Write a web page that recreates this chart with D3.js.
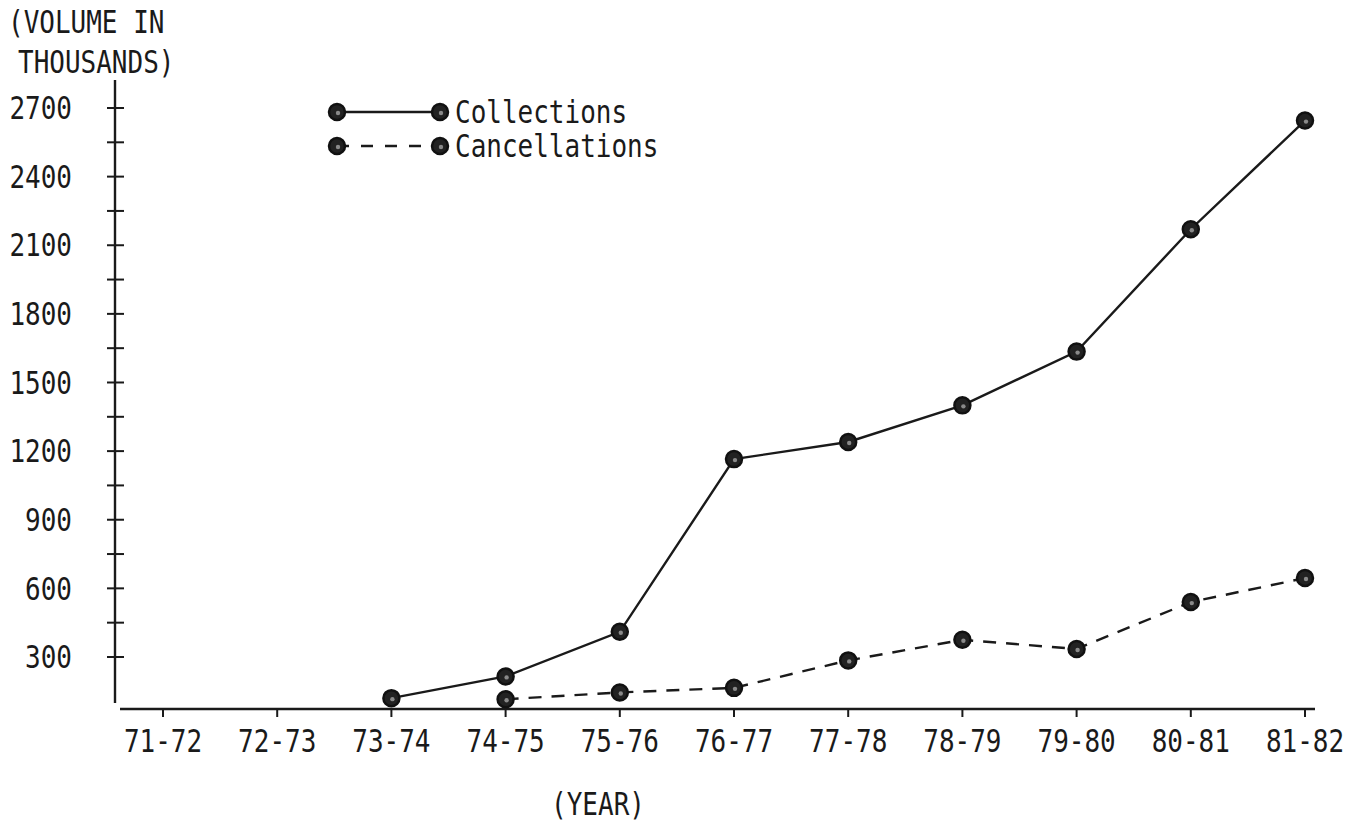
<!DOCTYPE html>
<html>
<head>
<meta charset="utf-8">
<script src="https://cdn.jsdelivr.net/npm/d3@7"></script>
<style>
  html, body { margin: 0; padding: 0; background: #fff; }
  svg text { font-family: "DejaVu Sans Mono", "Liberation Mono", monospace; fill: #1a1a1a; }
</style>
</head>
<body>
<div id="chart"></div>
<script>
// # Data (volume in thousands).
const years = ['71-72', '72-73', '73-74', '74-75', '75-76', '76-77', '77-78', '78-79', '79-80', '80-81', '81-82']
const collections = [null, null, 120, 215, 410, 1165, 1240, 1400, 1635, 2170, 2645]
const cancellations = [null, null, null, 115, 145, 165, 285, 375, 335, 540, 645]
const yTicks = [300, 600, 900, 1200, 1500, 1800, 2100, 2400, 2700]
const yMinorTicks = [450, 750, 1050, 1350, 1650, 1950, 2250, 2550]

// # Size
const width = 1348
const height = 823
const ink = '#1a1a1a'
const fontSize = 26
// # The typewriter face is taller than it is wide.
const stretchY = 1.2

const svg = d3.select('#chart')
    .append('svg')
    .attr('width', width)
    .attr('height', height)

// # Adds a stretched label at (tx, ty); ty is the vertical centre.
const label = (parent, tx, ty, str, anchor) => {
    parent.append('text')
        .attr('transform', 'translate(' + tx + ',' + ty + ') scale(1,' + stretchY + ')')
        .attr('dy', '0.36em')
        .attr('text-anchor', anchor || 'start')
        .attr('font-size', fontSize)
        .text(str)
}

// # Scales
const x = d3.scalePoint()
    .domain(years)
    .range([163, 1305])

const y = d3.scaleLinear()
    .domain([0, 2700])
    .range([725.6, 108])

const axisX = 115
const axisY = 709

// # Y axis line
svg.append('line')
    .attr('x1', axisX).attr('x2', axisX)
    .attr('y1', 80).attr('y2', 703)
    .attr('stroke', ink).attr('stroke-width', 2.4)

// # Y ticks (cross the axis)
svg.append('g')
    .selectAll('line')
    .data(yTicks.concat(yMinorTicks))
    .enter().append('line')
    .attr('x1', axisX - 8).attr('x2', axisX + 9)
    .attr('y1', d => y(d)).attr('y2', d => y(d))
    .attr('stroke', ink).attr('stroke-width', 2)

const yLabels = svg.append('g')
yTicks.forEach(d => label(yLabels, 72, y(d), d, 'end'))

// # X axis line
svg.append('line')
    .attr('x1', 120).attr('x2', 1315)
    .attr('y1', axisY).attr('y2', axisY)
    .attr('stroke', ink).attr('stroke-width', 2.4)

svg.append('g')
    .selectAll('line')
    .data(years)
    .enter().append('line')
    .attr('x1', d => x(d)).attr('x2', d => x(d))
    .attr('y1', axisY).attr('y2', axisY + 8)
    .attr('stroke', ink).attr('stroke-width', 2)

const xLabels = svg.append('g')
years.forEach(d => label(xLabels, x(d), 741, d, 'middle'))

// # Axis titles
label(svg, 8, 22, '(VOLUME IN')
label(svg, 18, 62, 'THOUSANDS)')
label(svg, 598, 804, '(YEAR)', 'middle')

// # Series
const series = [
    {name: 'Collections', values: collections, dash: null},
    {name: 'Cancellations', values: cancellations, dash: '13,10'}
]

const line = d3.line()
    .defined(d => d.v != null)
    .x(d => x(d.year))
    .y(d => y(d.v))

const drawMarker = (g, cx, cy) => {
    g.append('circle')
        .attr('cx', cx).attr('cy', cy).attr('r', 8)
        .attr('fill', '#222')
        .attr('stroke', '#111').attr('stroke-width', 2.5)
    g.append('circle')
        .attr('cx', cx + 1).attr('cy', cy + 1).attr('r', 2.2)
        .attr('fill', '#8a8a8a')
}

series.forEach(s => {
    const pts = years.map((yr, i) => ({year: yr, v: s.values[i]}))
    svg.append('path')
        .datum(pts)
        .attr('d', line)
        .attr('fill', 'none')
        .attr('stroke', ink)
        .attr('stroke-width', 2.4)
        .attr('stroke-dasharray', s.dash)
    const g = svg.append('g')
    pts.filter(p => p.v != null).forEach(p => drawMarker(g, x(p.year), y(p.v)))
})

// # Legend
const legend = svg.append('g')
series.forEach((s, i) => {
    const ly = 112 + i * 34
    legend.append('line')
        .attr('x1', 337).attr('x2', 440)
        .attr('y1', ly).attr('y2', ly)
        .attr('stroke', ink).attr('stroke-width', 2.4)
        .attr('stroke-dasharray', s.dash ? '12,12' : null)
    drawMarker(legend, 337, ly)
    drawMarker(legend, 440, ly)
    label(legend, 455, ly, s.name)
})
</script>
</body>
</html>
